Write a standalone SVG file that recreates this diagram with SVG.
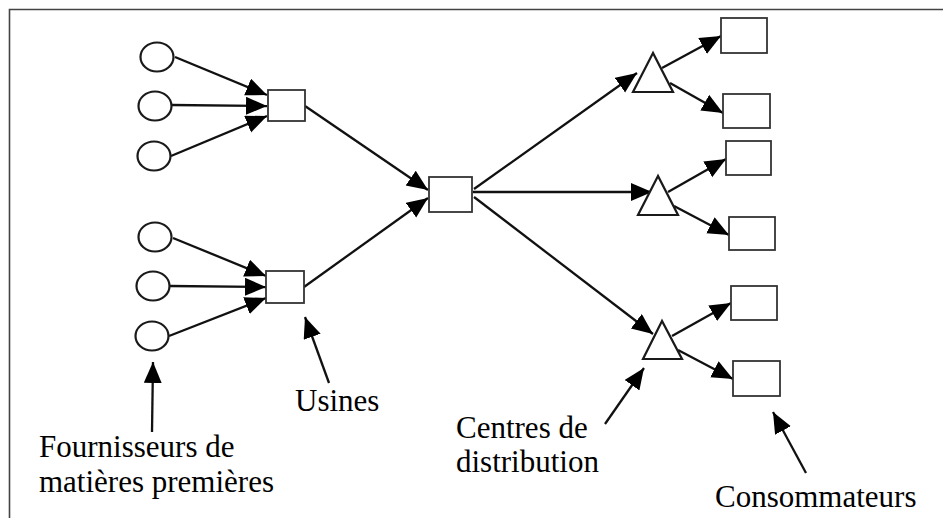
<svg xmlns="http://www.w3.org/2000/svg" width="943" height="518" viewBox="0 0 943 518">
<defs>
<marker id="ah" markerUnits="userSpaceOnUse" markerWidth="24" markerHeight="20" refX="21" refY="9" orient="auto">
<path d="M0,0 L21,9 L0,18 z" fill="#000"/>
</marker>
<style>
.n{fill:#fff;stroke:#1a1a1a;stroke-width:2.2}
.r{fill:#fff;stroke:#333;stroke-width:1.8}
.c line{stroke:#111;stroke-width:2.3;marker-end:url(#ah)}
.t{font-family:"Liberation Serif","Times New Roman",serif;font-size:31px;fill:#000}
.f{stroke:#444;stroke-width:1.6;fill:none}
</style>
</defs>
<rect width="943" height="518" fill="#fff"/>
<path class="f" d="M9.5,518 V9.5 H943"/>
<g class="c" id="connectors">
<line x1="175" y1="57" x2="267" y2="95"/>
<line x1="172" y1="105" x2="267" y2="106"/>
<line x1="171" y1="156" x2="267" y2="116"/>
<line x1="173" y1="238" x2="266" y2="276"/>
<line x1="170" y1="286" x2="266" y2="287"/>
<line x1="169" y1="336" x2="266" y2="298"/>
<line x1="305" y1="106" x2="428" y2="190"/>
<line x1="304" y1="287" x2="428" y2="198"/>
<line x1="474" y1="189" x2="637" y2="73"/>
<line x1="473" y1="192" x2="652" y2="192"/>
<line x1="474" y1="197" x2="653" y2="334"/>
<line x1="662" y1="68" x2="721" y2="36"/>
<line x1="670" y1="83" x2="723" y2="113"/>
<line x1="668" y1="192" x2="726" y2="159"/>
<line x1="674" y1="206" x2="729" y2="235"/>
<line x1="672" y1="336" x2="731" y2="303"/>
<line x1="678" y1="350" x2="733" y2="379"/>
<line x1="152" y1="432" x2="153" y2="362"/>
<line x1="329" y1="383" x2="305" y2="317"/>
<line x1="605" y1="424" x2="644" y2="368"/>
<line x1="806" y1="473" x2="773" y2="412"/>
</g>
<g id="s1"><ellipse class="n" cx="157" cy="57" rx="16.5" ry="14.5"/></g>
<g id="s2"><ellipse class="n" cx="155" cy="106" rx="16.5" ry="14.5"/></g>
<g id="s3"><ellipse class="n" cx="154" cy="156" rx="16.5" ry="14.5"/></g>
<g id="s4"><ellipse class="n" cx="155" cy="237" rx="16.5" ry="14.5"/></g>
<g id="s5"><ellipse class="n" cx="153" cy="286" rx="16.5" ry="14.5"/></g>
<g id="s6"><ellipse class="n" cx="152" cy="336" rx="16.5" ry="14.5"/></g>
<g id="u1"><rect class="r" x="268" y="90" width="37" height="31"/></g>
<g id="u2"><rect class="r" x="266" y="271" width="38" height="32"/></g>
<g id="hub"><rect class="r" x="429" y="177" width="43" height="35"/></g>
<g id="d1"><polygon class="n" points="653,53 633,92 673,92"/></g>
<g id="d2"><polygon class="n" points="658,176 638,215 678,215"/></g>
<g id="d3"><polygon class="n" points="662,321 643,359 682,359"/></g>
<g id="k1"><rect class="r" x="721" y="18" width="46" height="35"/></g>
<g id="k2"><rect class="r" x="723" y="94" width="47" height="34"/></g>
<g id="k3"><rect class="r" x="726" y="141" width="45" height="34"/></g>
<g id="k4"><rect class="r" x="729" y="217" width="46" height="33"/></g>
<g id="k5"><rect class="r" x="731" y="286" width="46" height="34"/></g>
<g id="k6"><rect class="r" x="733" y="361" width="47" height="35"/></g>
<g id="labels">
<text class="t" x="39" y="457">Fournisseurs de</text>
<text class="t" x="39" y="492">matières premières</text>
<text class="t" x="295" y="411">Usines</text>
<text class="t" x="456" y="438">Centres de</text>
<text class="t" x="456" y="472">distribution</text>
<text class="t" x="715" y="507">Consommateurs</text>
</g>
</svg>
